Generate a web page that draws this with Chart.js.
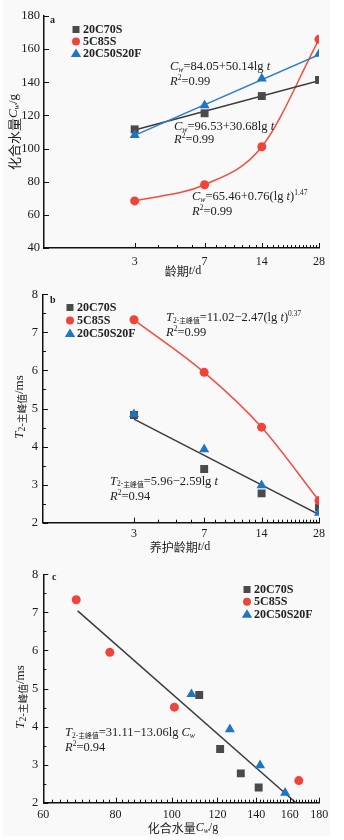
<!DOCTYPE html>
<html lang="zh">
<head>
<meta charset="UTF-8">
<title>化合水量与T2主峰值</title>
<script src="https://cdn.jsdelivr.net/npm/chart.js"></script>
<style>
  body { margin: 0; background: #fff; }
  .wrap { position: relative; width: 344px; height: 840px; overflow: hidden; }
  .bg { position: absolute; left: 3px; top: 0; width: 327px; height: 836px; background: #f9f9f9; }
  .panel { position: absolute; left: 0; width: 344px; height: 280px; }
  canvas { display: block; }
</style>
</head>
<body>
<div class="wrap">
  <div class="bg"></div>
  <div class="panel" style="top:0"><canvas id="chartA" width="344" height="280"></canvas></div>
  <div class="panel" style="top:280px"><canvas id="chartB" width="344" height="280"></canvas></div>
  <div class="panel" style="top:560px"><canvas id="chartC" width="344" height="280"></canvas></div>
</div>
<script>
  // ages (d) and measured values
  const ages = [3, 7, 14, 28];
  const cw20C70S = [111.6, 121.3, 131.7, 141.4];
  const cw5C85S = [68.4, 78.2, 101.1, 165.9];
  const cw20C50S20F = [108.2, 126.1, 142.2, 157.1];
  const t2_20C70S = [4.83, 3.41, 2.77, 2.40];
  const t2_5C85S = [7.33, 5.95, 4.51, 2.58];
  const t2_20C50S20F = [4.85, 3.93, 2.98, 2.26];

  // fitted lines (end points)
  const fitAges = [3, 28];
  const fitCw20C70S = [111.2, 140.9];
  const fitCw20C50S20F = [108.0, 156.6];
  const fitT2b = [4.72, 2.21];
  const fitCwC = [68.8, 164];
  const fitT2c = [7.04, 2.0];

  // tick values
  const ageTicks = [3, 7, 14, 28];
  const ageMinor = [4, 5, 6, 8, 9, 10, 11, 12, 13, 15, 16, 17, 18, 19, 20, 21, 22, 23, 24, 25, 26, 27];
  const cwTicksA = [40, 60, 80, 100, 120, 140, 160, 180];
  const t2Ticks = [2, 3, 4, 5, 6, 7, 8];
  const t2Minor = [2.5, 3.5, 4.5, 5.5, 6.5, 7.5];
  const cwTicksC = [60, 80, 100, 120, 140, 160, 180];
  const cwMinorC = [];
  for (let v = 62; v < 180; v += 2) if (v % 20) cwMinorC.push(v);

  const GRAY = '#4a4a4a', RED = '#f0443a', BLUE = '#1f74c4';
  const SERIF = '"Liberation Serif", "DejaVu Serif", serif';
  const CJK = '"Noto Sans CJK SC", sans-serif';

  const pts = (xs, ys) => xs.map((x, i) => ({ x: x, y: ys[i] }));

  // rich text: [text, kind]
  function segFont(kind, size) {
    switch (kind) {
      case 'i': return `italic ${size}px ${SERIF}`;
      case 'ws': return `italic ${size * 0.62}px ${SERIF}`;
      case 'ns': return `${size * 0.6}px ${SERIF}`;
      case 'cs': return `${size * 0.55}px ${CJK}`;
      case 'nsL': return `${size * 0.75}px ${SERIF}`;
      case 'csL': return `${size * 0.75}px ${CJK}`;
      case 'sup': return `${size * 0.6}px ${SERIF}`;
      case 'c': return `${size}px ${CJK}`;
      default: return `${size}px ${SERIF}`;
    }
  }
  function segShift(kind, size) {
    if (kind === 'ws' || kind === 'ns' || kind === 'cs') return size * 0.22;
    if (kind === 'nsL' || kind === 'csL') return size * 0.15;
    if (kind === 'sup') return -size * 0.3;
    return 0;
  }
  function richWidth(ctx, segs, size) {
    let w = 0;
    segs.forEach(s => { ctx.font = segFont(s[1], size); w += ctx.measureText(s[0]).width; });
    return w;
  }
  function drawRich(ctx, x, y, segs, size, align) {
    ctx.save();
    ctx.textBaseline = 'middle';
    ctx.textAlign = 'left';
    ctx.fillStyle = '#222';
    let cx = align === 'center' ? x - richWidth(ctx, segs, size) / 2 : x;
    segs.forEach(s => {
      ctx.font = segFont(s[1], size);
      ctx.fillText(s[0], cx, y + segShift(s[1], size));
      cx += ctx.measureText(s[0]).width;
    });
    ctx.restore();
  }

  function marker(ctx, style, x, y, r, color) {
    ctx.save();
    ctx.fillStyle = color;
    ctx.beginPath();
    if (style === 'rect') ctx.rect(x - r, y - r, 2 * r, 2 * r);
    else if (style === 'circle') ctx.arc(x, y, r, 0, Math.PI * 2);
    else { ctx.moveTo(x, y - r * 1.1); ctx.lineTo(x + r * 1.15, y + r * 0.8); ctx.lineTo(x - r * 1.15, y + r * 0.8); ctx.closePath(); }
    ctx.fill();
    ctx.restore();
  }

  const decor = {
    id: 'decor',
    afterDraw(chart, args, o) {
      const ctx = chart.ctx;
      const xs = chart.scales.x, ys = chart.scales.y;
      const a = chart.chartArea;
      ctx.save();
      ctx.strokeStyle = '#111';
      ctx.lineWidth = 1;
      // inward ticks
      ctx.beginPath();
      o.majorX.forEach(v => { const p = Math.round(xs.getPixelForValue(v)) + 0.5; ctx.moveTo(p, a.bottom); ctx.lineTo(p, a.bottom - 5); });
      o.minorX.forEach(v => { const p = Math.round(xs.getPixelForValue(v)) + 0.5; ctx.moveTo(p, a.bottom); ctx.lineTo(p, a.bottom - 3); });
      o.majorY.forEach(v => { const p = Math.round(ys.getPixelForValue(v)) + 0.5; ctx.moveTo(a.left, p); ctx.lineTo(a.left + 5, p); });
      o.minorY.forEach(v => { const p = Math.round(ys.getPixelForValue(v)) + 0.5; ctx.moveTo(a.left, p); ctx.lineTo(a.left + 3, p); });
      ctx.stroke();
      // panel letter
      ctx.font = `bold 10px ${SERIF}`;
      ctx.fillStyle = '#222';
      ctx.textBaseline = 'middle';
      ctx.fillText(o.letter[0], o.letter[1], o.letter[2]);
      // legend
      o.legend.items.forEach((it, i) => {
        const y = o.legend.y + i * o.legend.gap;
        marker(ctx, it[1], o.legend.x, y, it[1] === 'circle' ? 4 : (it[1] === 'rect' ? 3.5 : 4.5), it[2]);
        ctx.font = `bold 12px ${SERIF}`;
        ctx.fillStyle = '#222';
        ctx.textAlign = 'left';
        ctx.fillText(it[0], o.legend.x + 7, y + 0.5);
      });
      // equations
      o.notes.forEach(n => drawRich(ctx, n[0], n[1], n[2], 12.5, 'left'));
      // axis titles
      drawRich(ctx, o.xTitle[0], o.xTitle[1], o.xTitle[2], 12, 'center');
      ctx.translate(o.yTitle[0], o.yTitle[1]);
      ctx.rotate(-Math.PI / 2);
      drawRich(ctx, 0, 0, o.yTitle[2], 13, 'center');
      ctx.restore();
    }
  };

  function axisX(type, min, max, ticks, pad, height) {
    return {
      type: type, min: min, max: max,
      afterBuildTicks: s => { s.ticks = ticks.map(v => ({ value: v })); },
      afterFit: s => { s.height = height; },
      ticks: { autoSkip: false, maxRotation: 0, padding: pad, color: '#1a1a1a', font: { family: SERIF, size: 12 }, callback: v => String(v) },
      grid: { display: false, drawTicks: false },
      border: { display: true, color: '#111', width: 1.5 }
    };
  }
  function axisY(min, max, ticks, pad, width) {
    return {
      type: 'linear', min: min, max: max,
      afterBuildTicks: s => { s.ticks = ticks.map(v => ({ value: v })); },
      afterFit: s => { s.width = width; },
      ticks: { padding: pad, color: '#1a1a1a', font: { family: SERIF, size: 12.5 }, callback: v => String(v) },
      grid: { display: false, drawTicks: false },
      border: { display: true, color: '#111', width: 1.5 }
    };
  }

  const scatterSet = (data, style, color, r) => ({ data: data, pointStyle: style, pointRadius: r, pointHoverRadius: r, backgroundColor: color, borderWidth: 0, showLine: false });
  const lineSet = (data, color, curved) => ({ data: data, showLine: true, pointRadius: 0, borderColor: color, borderWidth: 1.5, cubicInterpolationMode: curved ? 'monotone' : 'default', fill: false });

  const baseOpts = (pad, scales, decorOpts) => ({
    responsive: false, animation: false, events: [],
    layout: { padding: pad },
    plugins: { legend: { display: false }, tooltip: { enabled: false }, decor: decorOpts },
    scales: scales
  });

  const W = (t) => [t, 'r'];
  const cwSeg = [['C', 'i'], ['w', 'ws']];
  const t2Seg = [['T', 'i'], ['2-', 'ns'], ['主峰值', 'cs']];
  const t2Title = [['T', 'i'], ['2-', 'nsL'], ['主峰值', 'csL']];
  const legendItems = [['20C70S', 'rect', GRAY], ['5C85S', 'circle', RED], ['20C50S20F', 'triangle', BLUE]];

  // a: 化合水量 vs 龄期
  new Chart(document.getElementById('chartA'), {
    type: 'scatter',
    data: { datasets: [
      scatterSet(pts(ages, cw20C50S20F), 'triangle', BLUE, 5.8),
      scatterSet(pts(ages, cw5C85S), 'circle', RED, 4.5),
      scatterSet(pts(ages, cw20C70S), 'rect', GRAY, 5.6),
      lineSet(pts(fitAges, fitCw20C50S20F), '#2b7bd0', false),
      lineSet(pts(fitAges, fitCw20C70S), '#3c3c3c', false),
      lineSet(pts(ages, cw5C85S), '#f04e3e', true)
    ] },
    options: baseOpts({ left: 0, right: 25, top: 16, bottom: 0 }, {
      x: axisX('logarithmic', 1, 28, ageTicks, 6.5, 32),
      y: axisY(40, 180, cwTicksA, 4, 44)
    }, {
      majorX: ageTicks, minorX: ageMinor, majorY: cwTicksA, minorY: [],
      letter: ['a', 50, 20],
      legend: { x: 76, y: 29.5, gap: 12, items: legendItems },
      notes: [
        [170, 67, [...cwSeg, W('=84.05+50.14lg '), ['t', 'i']]],
        [170, 82, [['R', 'i'], ['2', 'sup'], W('=0.99')]],
        [174, 127, [...cwSeg, W('=96.53+30.68lg '), ['t', 'i']]],
        [174, 140, [['R', 'i'], ['2', 'sup'], W('=0.99')]],
        [192, 197, [...cwSeg, W('=65.46+0.76(lg '), ['t', 'i'], W(')'), ['1.47', 'sup']]],
        [192, 211.5, [['R', 'i'], ['2', 'sup'], W('=0.99')]]
      ],
      xTitle: [183, 271, [['龄期', 'c'], ['t', 'i'], W('/d')]],
      yTitle: [14, 132, [['化合水量', 'c'], ...cwSeg, W('/g')]]
    }),
    plugins: [decor]
  });

  // b: T2 vs 养护龄期
  new Chart(document.getElementById('chartB'), {
    type: 'scatter',
    data: { datasets: [
      scatterSet(pts(ages, t2_20C50S20F), 'triangle', BLUE, 5.8),
      scatterSet(pts(ages, t2_5C85S), 'circle', RED, 4.5),
      scatterSet(pts(ages, t2_20C70S), 'rect', GRAY, 5.6),
      lineSet(pts(fitAges, fitT2b), '#3c3c3c', false),
      lineSet(pts(ages, t2_5C85S), '#f04e3e', true)
    ] },
    options: baseOpts({ left: 0, right: 25, top: 14.3, bottom: 0 }, {
      x: axisX('logarithmic', 1, 28, ageTicks, 4, 37.3),
      y: axisY(2, 8, t2Ticks, 5, 43)
    }, {
      majorX: ageTicks, minorX: ageMinor, majorY: t2Ticks, minorY: t2Minor,
      letter: ['b', 50, 20.5],
      legend: { x: 70, y: 27.5, gap: 13, items: legendItems },
      notes: [
        [166, 38, [...t2Seg, W('=11.02−2.47(lg '), ['t', 'i'], W(')'), ['0.37', 'sup']]],
        [166, 53, [['R', 'i'], ['2', 'sup'], W('=0.99')]],
        [110, 201.5, [...t2Seg, W('=5.96−2.59lg '), ['t', 'i']]],
        [110, 217, [['R', 'i'], ['2', 'sup'], W('=0.94')]]
      ],
      xTitle: [180, 267, [['养护龄期', 'c'], ['t', 'i'], W('/d')]],
      yTitle: [20, 127, [...t2Title, W('/ms')]]
    }),
    plugins: [decor]
  });

  // c: T2 vs 化合水量
  new Chart(document.getElementById('chartC'), {
    type: 'scatter',
    data: { datasets: [
      scatterSet(pts(cw20C50S20F, t2_20C50S20F), 'triangle', BLUE, 5.8),
      scatterSet(pts(cw5C85S, t2_5C85S), 'circle', RED, 4.5),
      scatterSet(pts(cw20C70S, t2_20C70S), 'rect', GRAY, 5.6),
      lineSet(pts(fitCwC, fitT2c), '#3c3c3c', false)
    ] },
    options: baseOpts({ left: 0, right: 24.7, top: 14.3, bottom: 0 }, {
      x: axisX('logarithmic', 60, 180, cwTicksC, 5, 37.3),
      y: axisY(2, 8, t2Ticks, 5, 43.3)
    }, {
      majorX: cwTicksC, minorX: cwMinorC, majorY: t2Ticks, minorY: t2Minor,
      letter: ['c', 52, 17.5],
      legend: { x: 247, y: 29.5, gap: 12.3, items: legendItems },
      notes: [
        [65, 173, [...t2Seg, W('=31.11−13.06lg '), ...cwSeg]],
        [65, 187.5, [['R', 'i'], ['2', 'sup'], W('=0.94')]]
      ],
      xTitle: [183, 268, [['化合水量', 'c'], ...cwSeg, W('/g')]],
      yTitle: [21, 137, [...t2Title, W('/ms')]]
    }),
    plugins: [decor]
  });
</script>
</body>
</html>
